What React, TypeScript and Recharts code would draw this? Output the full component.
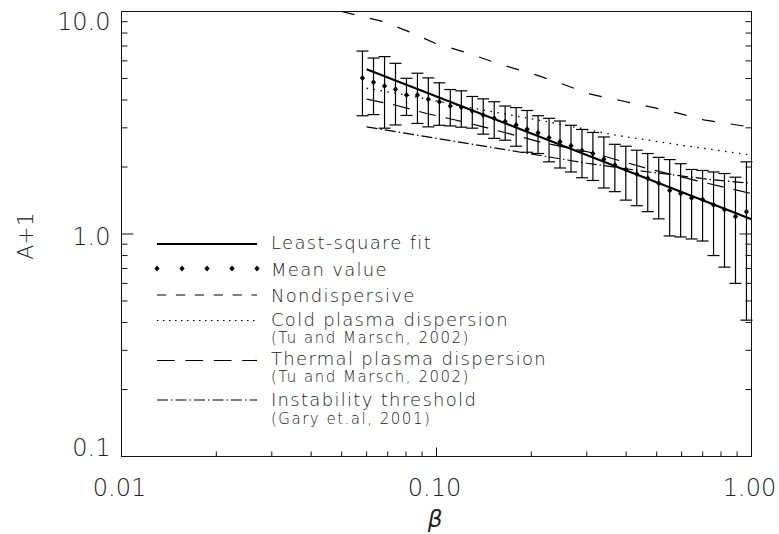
import React from 'react';
import { ComposedChart, Line, Scatter, ErrorBar, XAxis, YAxis, Legend } from 'recharts';

// mean A+1 with 1-sigma spread, per beta bin
const meanBeta = [
  0.0582, 0.0631, 0.0684, 0.0741, 0.0803, 0.087, 0.0942, 0.1021, 0.1106, 0.1199, 0.1299, 0.1407,
  0.1525, 0.1652, 0.179, 0.194, 0.2101, 0.2277, 0.2467, 0.2673, 0.2896, 0.3137, 0.3399, 0.3683,
  0.399, 0.4323, 0.4684, 0.5075, 0.5498, 0.5957, 0.6454, 0.6993, 0.7577, 0.8209, 0.8895, 0.9638,
];
const meanValue = [
  5.02, 4.81, 4.63, 4.47, 4.21, 4.21, 4.03, 3.93, 3.76, 3.71, 3.57, 3.43,
  3.31, 3.2, 3.09, 2.96, 2.85, 2.71, 2.6, 2.49, 2.37, 2.3, 2.17, 2.04,
  1.95, 1.86, 1.78, 1.69, 1.57, 1.52, 1.45, 1.43, 1.35, 1.29, 1.2, 1.26,
];
const meanSpread = [
  1.62, 1.37, 1.64, 1.38, 0.8, 1.07, 1.0, 0.85, 0.7, 0.69, 0.58, 0.62,
  0.62, 0.56, 0.61, 0.63, 0.55, 0.6, 0.62, 0.59, 0.58, 0.56, 0.56, 0.49,
  0.53, 0.52, 0.52, 0.52, 0.59, 0.55, 0.5, 0.5, 0.55, 0.58, 0.6, 0.85,
];

const fitBeta = [0.06, 1.0];
const fitValue = [5.5, 1.164];

const nondispBeta = [0.05, 0.068, 0.082, 0.099, 0.128, 0.155, 0.206, 0.247, 0.308, 0.383, 0.477, 0.58, 0.705, 1.0];
const nondispValue = [10.0, 9.0, 8.1, 7.2, 6.45, 5.86, 5.2, 4.76, 4.25, 3.98, 3.73, 3.5, 3.26, 3.02];

const coldBeta = [0.06, 0.0804, 0.131, 0.224, 0.365, 0.594, 1.0];
const coldValue = [4.52, 4.21, 3.67, 3.2, 2.79, 2.51, 2.26];

const thermalBeta = [0.06, 0.0738, 0.0931, 0.1131, 0.1409, 0.2134, 0.3153, 0.466, 0.688, 1.0];
const thermalValue = [4.04, 3.8, 3.48, 3.27, 3.03, 2.59, 2.31, 1.97, 1.72, 1.52];

const garyBeta = [0.06, 0.1159, 0.3003, 0.466, 0.759, 1.0];
const garyValue = [3.03, 2.6, 2.08, 1.905, 1.75, 1.69];

const xMajor = [0.01, 0.1, 1];
const xMajorLabels = ['0.01', '0.10', '1.00'];
const xMinor = [0.02, 0.03, 0.04, 0.05, 0.06, 0.07, 0.08, 0.09, 0.2, 0.3, 0.4, 0.5, 0.6, 0.7, 0.8, 0.9];
const yMajor = [0.1, 1, 10];
const yMajorLabels = ['0.1', '1.0', '10.0'];
const yMinor = [0.2, 0.3, 0.4, 0.5, 0.6, 0.7, 0.8, 0.9, 2, 3, 4, 5, 6, 7, 8, 9];

const legendLabels = ['Least-square fit', 'Mean value', 'Nondispersive', 'Cold plasma dispersion', 'Thermal plasma dispersion', 'Instability threshold'];
const legendRefs = ['', '', '', '(Tu and Marsch, 2002)', '(Tu and Marsch, 2002)', '(Gary et.al, 2001)'];

const zip = (bs: number[], vs: number[]) => bs.map((b, i) => ({ b, v: vs[i] }));
const meanData = meanBeta.map((b, i) => ({ b, v: meanValue[i], e: meanSpread[i] }));

const INK = '#111';
const TXT = '#222';
const FONT = '"DejaVu Sans", "Liberation Sans", sans-serif';
const yLabelDy = [-0.75, 10.75, 18.25]; // IDL nudges the end labels inside the box

function LeftTick(props: any) {
  const { x, y, payload } = props;
  const k = yMajor.indexOf(payload.value);
  return (
    <g>
      <line x1={x} y1={y} x2={x + (k >= 0 ? 12 : 6)} y2={y} stroke={INK} />
      {k >= 0 && (
        <text x={x - 11} y={y + yLabelDy[k]} textAnchor="end" fontFamily={FONT} fontWeight={200} fontSize={24} fill={TXT}>
          {yMajorLabels[k]}
        </text>
      )}
    </g>
  );
}

function RightTick(props: any) {
  const { x, y, payload } = props;
  const major = yMajor.includes(payload.value);
  return <line x1={x} y1={y} x2={x - (major ? 12 : 6)} y2={y} stroke={INK} />;
}

function BottomTick(props: any) {
  const { x, y, payload } = props;
  const k = xMajor.indexOf(payload.value);
  return (
    <g>
      <line x1={x} y1={y} x2={x} y2={y - (k >= 0 ? 9 : 5)} stroke={INK} />
      {k >= 0 && (
        <text x={x - 2} y={y + 39.75} textAnchor="middle" fontFamily={FONT} fontWeight={200} fontSize={24} fill={TXT}>
          {xMajorLabels[k]}
        </text>
      )}
    </g>
  );
}

function TopTick(props: any) {
  const { x, y, payload } = props;
  const major = xMajor.includes(payload.value);
  return <line x1={x} y1={y} x2={x} y2={y + (major ? 9 : 5)} stroke={INK} />;
}

function Diamond(props: any) {
  const { cx, cy } = props;
  if (cx == null || cy == null) return null;
  return <polygon points={`${cx},${cy - 3} ${cx + 2.6},${cy} ${cx},${cy + 3} ${cx - 2.6},${cy}`} fill="#000" />;
}

function YTitle() {
  return (
    <text x={25} y={236} transform="rotate(-90 25 236)" textAnchor="middle" dominantBaseline="central" fontFamily={FONT} fontWeight={200} fontSize={22} fill={TXT}>
      A+1
    </text>
  );
}

function XTitle() {
  return (
    <text x={435} y={527} textAnchor="middle" fontFamily={FONT} fontStyle="italic" fontSize={23} fill={TXT}>
      β
    </text>
  );
}

function LegendBox() {
  const ox = 150;
  const oy = 228;
  const x1 = 157 - ox;
  const x2 = 257 - ox;
  const tx = 271 - ox;
  const symY = [244, 268.5, 295, 320.5, 360.5, 400].map((v) => v - oy);
  const textY = [242, 269, 295, 319, 358, 399].map((v) => v - oy);
  const subY = [0, 0, 0, 337, 376.5, 418.5].map((v) => v - oy);
  const dashes = [undefined, undefined, '9.3 9.6', '1.5 4.5', '17.7 10.7', '11 3 1.5 3'];
  return (
    <svg width={420} height={210} style={{ display: 'block' }}>
      {legendLabels.map((lab, i) => (
        <g key={lab}>
          {i === 1 ? (
            [0, 1, 2, 3, 4].map((j) => (
              <polygon
                key={j}
                points={`${x1 + j * 25},${symY[i] - 3} ${x1 + j * 25 + 2.6},${symY[i]} ${x1 + j * 25},${symY[i] + 3} ${x1 + j * 25 - 2.6},${symY[i]}`}
                fill="#000"
              />
            ))
          ) : (
            <line x1={x1} y1={symY[i]} x2={x2} y2={symY[i]} stroke="#000" strokeWidth={i === 0 ? 2 : 1.2} strokeDasharray={dashes[i]} />
          )}
          <text x={tx} y={textY[i] + 6.5} fontFamily={FONT} fontWeight={200} fontSize={18} letterSpacing={1.3} fill={TXT}>
            {lab}
          </text>
          {legendRefs[i] && (
            <text x={tx} y={subY[i] + 5.5} fontFamily={FONT} fontWeight={200} fontSize={15} letterSpacing={1.5} fill={TXT}>
              {legendRefs[i]}
            </text>
          )}
        </g>
      ))}
    </svg>
  );
}

export default function App() {
  return (
    <div style={{ position: 'absolute', left: 0, top: 0, width: 779, height: 534, background: '#fff' }}>
      <ComposedChart width={779} height={534} margin={{ top: 1.5, right: 17.5, bottom: 47.5, left: 61.5 }}>
        <XAxis
          dataKey="b"
          type="number"
          scale="log"
          domain={[0.01, 1]}
          allowDataOverflow
          ticks={[...xMajor, ...xMinor]}
          interval={0}
          height={30}
          tickSize={0}
          tickMargin={0}
          tickLine={false}
          axisLine={{ stroke: INK }}
          tick={<BottomTick />}
          label={<XTitle />}
        />
        <XAxis
          xAxisId="top"
          orientation="top"
          type="number"
          scale="log"
          domain={[0.01, 1]}
          allowDataOverflow
          ticks={[...xMajor, ...xMinor]}
          interval={0}
          height={10}
          tickSize={0}
          tickMargin={0}
          tickLine={false}
          axisLine={{ stroke: INK }}
          tick={<TopTick />}
        />
        <YAxis
          dataKey="v"
          type="number"
          scale="log"
          domain={[0.1, 10]}
          allowDataOverflow
          ticks={[...yMajor, ...yMinor]}
          interval={0}
          width={60}
          tickSize={0}
          tickMargin={0}
          tickLine={false}
          axisLine={{ stroke: INK }}
          tick={<LeftTick />}
          label={<YTitle />}
        />
        <YAxis
          yAxisId="right"
          orientation="right"
          type="number"
          scale="log"
          domain={[0.1, 10]}
          allowDataOverflow
          ticks={[...yMajor, ...yMinor]}
          interval={0}
          width={10}
          tickSize={0}
          tickMargin={0}
          tickLine={false}
          axisLine={{ stroke: INK }}
          tick={<RightTick />}
        />
        <Line data={zip(nondispBeta, nondispValue)} dataKey="v" type="linear" stroke="#000" strokeWidth={1.2} strokeDasharray="13 16" dot={false} isAnimationActive={false} />
        <Line data={zip(coldBeta, coldValue)} dataKey="v" type="linear" stroke="#000" strokeWidth={1.3} strokeDasharray="1.5 5.5" dot={false} isAnimationActive={false} />
        <Line data={zip(thermalBeta, thermalValue)} dataKey="v" type="linear" stroke="#000" strokeWidth={1.2} strokeDasharray="17 10" dot={false} isAnimationActive={false} />
        <Line data={zip(garyBeta, garyValue)} dataKey="v" type="linear" stroke="#000" strokeWidth={1.2} strokeDasharray="11 3 1.5 3" dot={false} isAnimationActive={false} />
        <Line data={zip(fitBeta, fitValue)} dataKey="v" type="linear" stroke="#000" strokeWidth={2.2} dot={false} isAnimationActive={false} />
        <Scatter data={meanData} dataKey="v" shape={<Diamond />} isAnimationActive={false}>
          <ErrorBar dataKey="e" direction="y" width={6} stroke="#000" strokeWidth={1.2} isAnimationActive={false} />
        </Scatter>
        <Legend
          layout="vertical"
          align="center"
          verticalAlign="middle"
          content={() => <LegendBox />}
          wrapperStyle={{ left: 150, top: 228, width: 420, height: 210 }}
        />
      </ComposedChart>
    </div>
  );
}
